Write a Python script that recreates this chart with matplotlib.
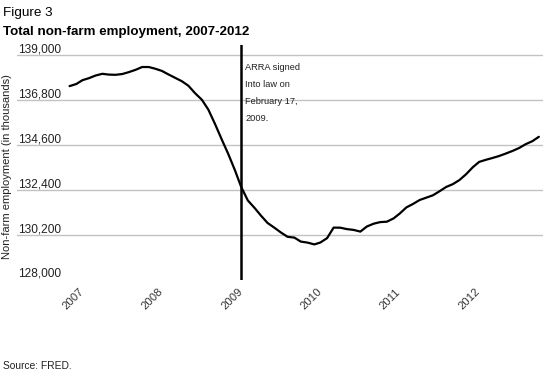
import numpy as np
import pandas as pd
import matplotlib
matplotlib.use('Agg')
import matplotlib.pyplot as plt
import matplotlib.dates as mdates

plt.rcParams['font.family'] = ['Liberation Sans', 'DejaVu Sans']

#--------------------------------------------------- data (thousands of jobs, monthly)
months = pd.date_range('2007-01-01', periods=72, freq='MS')
employment = [137480, 137582, 137768, 137871, 137998, 138081, 138042, 138032, 138071, 138164, 138276, 138413,
              138413, 138325, 138223, 138047, 137885, 137719, 137499, 137132, 136815, 136331, 135622, 134888,
              134155, 133353, 132556, 131887, 131535, 131139, 130786, 130557, 130317, 130112, 130073, 129877,
              129828, 129740, 129833, 130048, 130562, 130557, 130488, 130449, 130366, 130615, 130752, 130830,
              130850, 131011, 131246, 131549, 131715, 131911, 132023, 132141, 132341, 132547, 132688, 132884,
              133172, 133515, 133774, 133876, 133964, 134062, 134179, 134307, 134453, 134639, 134786, 135001]
ytick_vals = [128000, 130200, 132400, 134600, 136800, 139000]
year_ticks = pd.date_range('2007-01-01', periods=6, freq='YS')
arra_date = pd.Timestamp('2009-03-01')   # where the source draws the ARRA line
arra_text = 'ARRA signed\nInto law on\nFebruary 17,\n2009.'

#--------------------------------------------------- figure
fig = plt.figure(figsize=(5.6, 3.77), dpi=100)
ax = fig.add_axes([0.0304, 0.2573, 0.9392, 0.6239])

ax.plot(months, employment, '-', color='black', linewidth=1.6, zorder=3, solid_capstyle='round')
ax.axvline(arra_date, color='black', linewidth=1.8, zorder=4)

ax.set_xlim(pd.Timestamp('2006-05-04'), pd.Timestamp('2012-12-20'))
ax.set_ylim(128000, 139500)

# gridlines (none at the bottom value)
for v in ytick_vals[1:]:
  ax.axhline(v, color='#c2c2c2', linewidth=1.0, zorder=1)
# y labels sit above the gridlines
for v in ytick_vals:
  ax.text(0.002, v, '{:,}'.format(v), transform=ax.get_yaxis_transform(), ha='left', va='bottom',
          fontsize=8.6, color='#222222')
ax.set_yticks([])

ax.set_xticks(year_ticks)
ax.set_xticklabels([str(d.year) for d in year_ticks], rotation=45, ha='center', va='top',
                   rotation_mode='anchor', fontsize=8.2, color='#333333')
ax.tick_params(axis='x', length=0, pad=11)

for s in ax.spines.values():
  s.set_visible(False)

ax.annotate(arra_text, xy=(arra_date, 139500), xytext=(3, -13), textcoords='offset points',
            ha='left', va='top', fontsize=6.7, linespacing=2.15, color='#222222')

fig.text(0.003, 0.5 * (0.2573 + 0.8812) - 0.01, 'Non-farm employment (in thousands)', rotation=90,
         ha='left', va='center', fontsize=8.0, color='#222222')
fig.text(0.005, 1 - 13 / 377, 'Figure 3', ha='left', va='center', fontsize=9.7)
fig.text(0.005, 1 - 32 / 377, 'Total non-farm employment, 2007-2012', ha='left', va='center',
         fontsize=9.6, fontweight='bold')
fig.text(0.005, 1 - 366 / 377, 'Source: FRED.', ha='left', va='center', fontsize=7.4, color='#222222')

fig.savefig('out.png', dpi=100)
